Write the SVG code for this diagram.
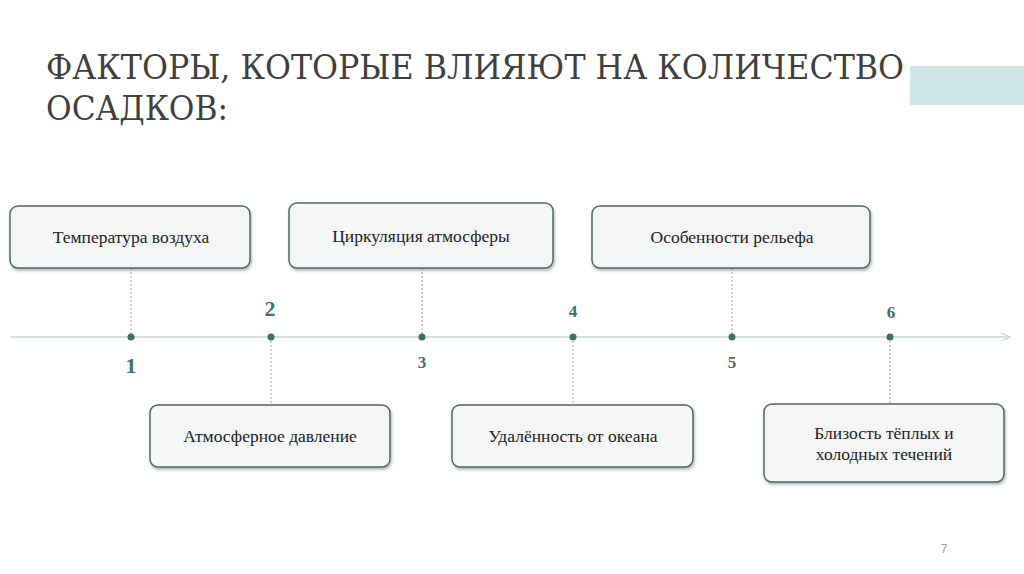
<svg xmlns="http://www.w3.org/2000/svg" width="1024" height="574" viewBox="0 0 1024 574">
<style>
.box{fill:#f4f5f5;stroke:#4d6866;stroke-width:1.5}
.bt{font-family:"Liberation Serif","DejaVu Serif",serif;font-size:17.5px;fill:#222;text-anchor:middle}
.num{font-family:"Liberation Serif",serif;font-weight:bold;fill:#3c6e6c;text-anchor:middle}
.dot{fill:#3c6e6c}
.dl{stroke:#9aa;stroke-width:1;stroke-dasharray:2 2}
</style>
<defs>
<filter id="sh" x="-10%" y="-20%" width="120%" height="150%"><feDropShadow dx="1" dy="2" stdDeviation="1.5" flood-color="#000" flood-opacity="0.3"/></filter>
<marker id="ar" markerWidth="10" markerHeight="10" refX="9" refY="5" orient="auto" markerUnits="userSpaceOnUse"><path d="M0,1 L9,5 L0,9" fill="none" stroke="#c8d6d6" stroke-width="1.2"/></marker>
</defs>
<rect width="1024" height="574" fill="#fff"/>
<rect x="910" y="66" width="114" height="39" fill="#cfe7ea"/>
<g font-family="'DejaVu Serif Condensed','Liberation Serif',serif" font-size="34" fill="#3f3f3f">
<text x="46" y="79" textLength="858" lengthAdjust="spacingAndGlyphs">ФАКТОРЫ, КОТОРЫЕ ВЛИЯЮТ НА КОЛИЧЕСТВО</text>
<text x="46" y="120" textLength="182" lengthAdjust="spacingAndGlyphs">ОСАДКОВ:</text>
</g>
<g id="connectors">
<line x1="10" y1="337" x2="1010" y2="337" stroke="#c8d6d6" stroke-width="1.5" marker-end="url(#ar)"/>
<line class="dl" x1="131" y1="268" x2="131" y2="337"/>
<line class="dl" x1="271" y1="337" x2="271" y2="405"/>
<line class="dl" x1="422" y1="268" x2="422" y2="337"/>
<line class="dl" x1="573" y1="337" x2="573" y2="405"/>
<line class="dl" x1="732" y1="268" x2="732" y2="337"/>
<line class="dl" x1="890" y1="337" x2="890" y2="404"/>
</g>
<g id="n1"><rect class="box" filter="url(#sh)" x="10" y="206" width="240" height="62" rx="8"/><text class="bt" x="131" y="243">Температура воздуха</text><circle class="dot" cx="131" cy="337" r="3.5"/><text class="num" x="131" y="373" font-size="22">1</text></g>
<g id="n2"><rect class="box" filter="url(#sh)" x="150" y="405" width="240" height="62" rx="8"/><text class="bt" x="270" y="442">Атмосферное давление</text><circle class="dot" cx="271" cy="337" r="3.5"/><text class="num" x="270" y="316" font-size="22">2</text></g>
<g id="n3"><rect class="box" filter="url(#sh)" x="289" y="203" width="264" height="65" rx="8"/><text class="bt" x="421" y="242">Циркуляция атмосферы</text><circle class="dot" cx="422" cy="337" r="3.5"/><text class="num" x="422" y="368" font-size="17">3</text></g>
<g id="n4"><rect class="box" filter="url(#sh)" x="452" y="405" width="241" height="62" rx="8"/><text class="bt" x="573" y="442">Удалённость от океана</text><circle class="dot" cx="573" cy="337" r="3.5"/><text class="num" x="573" y="317" font-size="17">4</text></g>
<g id="n5"><rect class="box" filter="url(#sh)" x="592" y="206" width="278" height="62" rx="8"/><text class="bt" x="732" y="243">Особенности рельефа</text><circle class="dot" cx="732" cy="337" r="3.5"/><text class="num" x="732" y="368" font-size="17">5</text></g>
<g id="n6"><rect class="box" filter="url(#sh)" x="764" y="404" width="240" height="78" rx="8"/><text class="bt" x="884" y="439">Близость тёплых и</text><text class="bt" x="884" y="460">холодных течений</text><circle class="dot" cx="890" cy="337" r="3.5"/><text class="num" x="891" y="318" font-size="17">6</text></g>
<text x="944" y="553" font-family="'Liberation Sans',sans-serif" font-size="12" fill="#999" text-anchor="middle">7</text>
</svg>
